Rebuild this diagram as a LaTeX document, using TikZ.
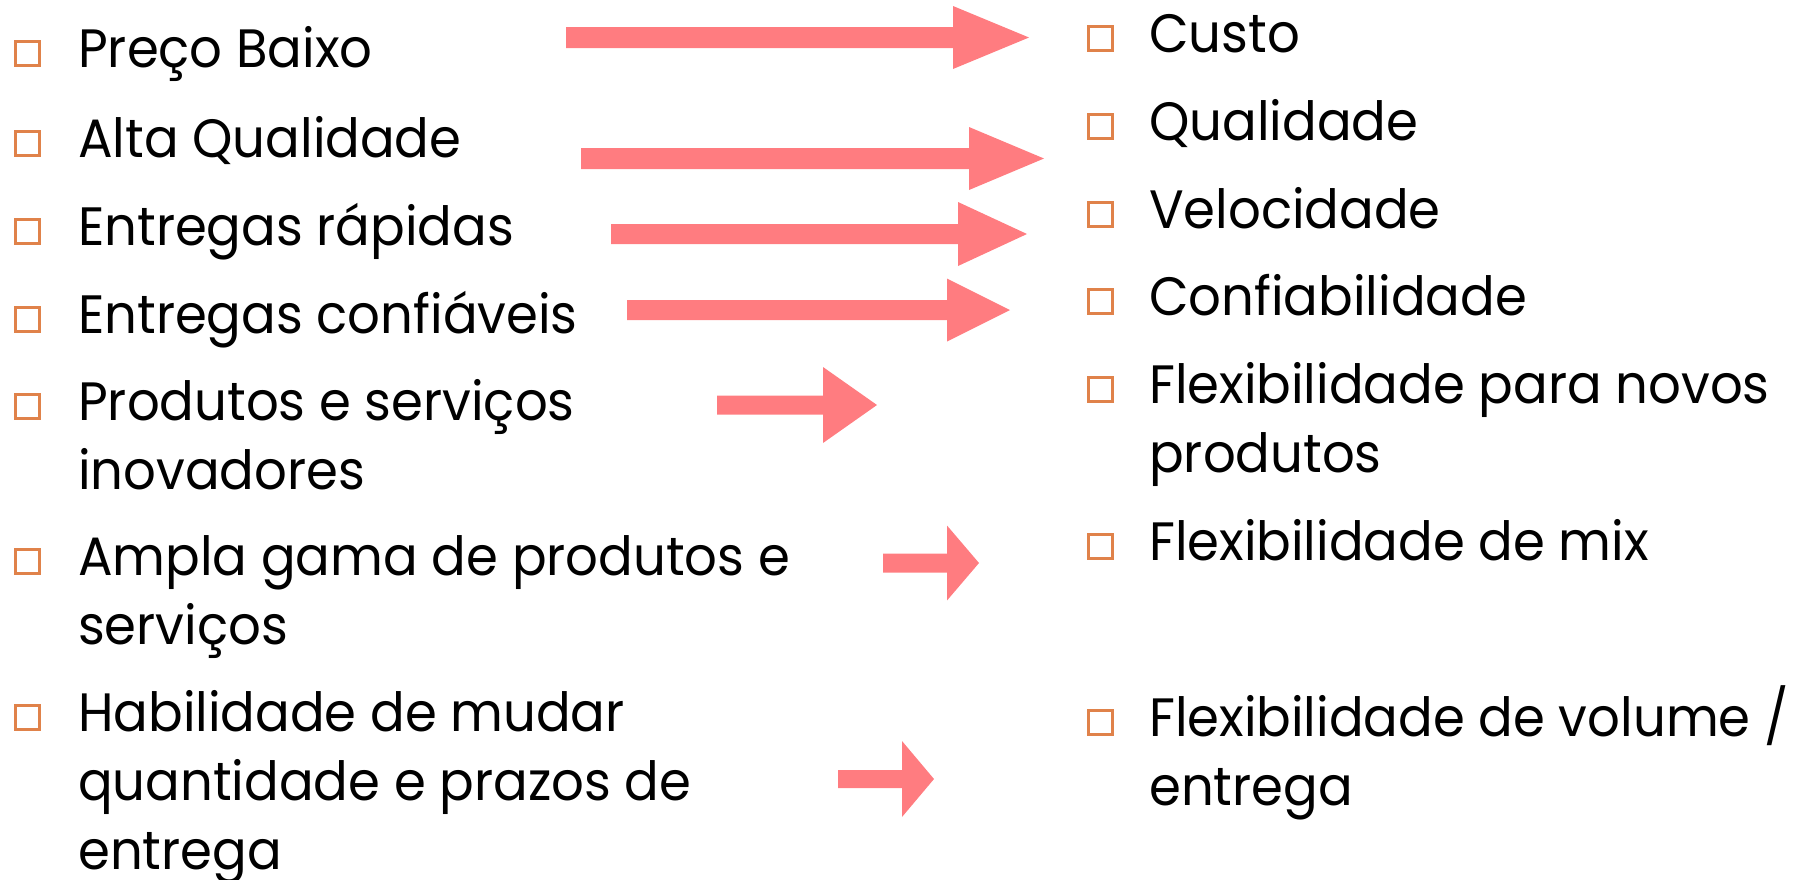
\documentclass[tikz,border=0pt]{standalone}
\usepackage{fontspec}
\setmainfont[FakeStretch=0.95]{Poppins}
\definecolor{arrowpink}{HTML}{FF7C80}
\definecolor{bulletorange}{HTML}{E0824A}
\tikzset{
  itemtext/.style={anchor=base west, inner sep=0pt, font=\fontsize{54}{69}\selectfont},
  bulletbox/.style={draw=bulletorange, line width=3pt, minimum size=24pt, inner sep=0pt},
  blockarrow/.style={fill=arrowpink}
}
\newcommand{\lines}[1]{\begin{tabular}[t]{@{}l@{}}#1\end{tabular}}
% x1, xbase, xtip, ycenter, half shaft, half head
\newcommand{\blkarrow}[6]{%
  \fill[blockarrow] (#1,#4-#5) -- (#2,#4-#5) -- (#2,#4-#6) -- (#3,#4) -- (#2,#4+#6) -- (#2,#4+#5) -- (#1,#4+#5) -- cycle;}
\begin{document}
\begin{tikzpicture}[x=1pt,y=-1pt]
\useasboundingbox (0,0) rectangle (1808,879);
% left column
\foreach \n/\y in {l1/67,l2/157,l3/245,l4/333,l5/420,l6/575,l7/731}{
  \node[bulletbox] (b\n) at (27.5,\y-13.5) {};
}
\node[itemtext] (l1) at (78,67) {Preço Baixo};
\node[itemtext] (l2) at (78,157) {Alta Qualidade};
\node[itemtext] (l3) at (78,245) {Entregas rápidas};
\node[itemtext] (l4) at (78,333) {Entregas confiáveis};
\node[itemtext] (l5) at (78,420) {\lines{Produtos e serviços\\inovadores}};
\node[itemtext] (l6) at (78,575) {\lines{Ampla gama de produtos e\\serviços}};
\node[itemtext] (l7) at (78,731) {\lines{Habilidade de mudar\\quantidade e prazos de\\entrega}};
% right column
\foreach \n/\y in {r1/52,r2/140,r3/228,r4/315,r5/403,r6/560,r7/736}{
  \node[bulletbox] (b\n) at (1100.5,\y-13.5) {};
}
\node[itemtext] (r1) at (1149,52) {Custo};
\node[itemtext] (r2) at (1149,140) {Qualidade};
\node[itemtext] (r3) at (1149,228) {Velocidade};
\node[itemtext] (r4) at (1149,315) {Confiabilidade};
\node[itemtext] (r5) at (1149,403) {\lines{Flexibilidade para novos\\produtos}};
\node[itemtext] (r6) at (1149,560) {Flexibilidade de mix};
\node[itemtext] (r7) at (1149,736) {\lines{Flexibilidade de volume /\\entrega}};
% arrows
\blkarrow{566}{953}{1029}{37.5}{10.5}{31.5}
\blkarrow{581}{969}{1044}{158.5}{10.5}{31.5}
\blkarrow{611}{958}{1027}{234}{10}{32}
\blkarrow{627}{947}{1010}{310}{10}{31.5}
\blkarrow{717}{823}{877}{405}{9.5}{38}
\blkarrow{883}{947}{979}{563}{9.5}{37.5}
\blkarrow{838}{902}{934}{779}{9}{38}
\end{tikzpicture}
\end{document}
